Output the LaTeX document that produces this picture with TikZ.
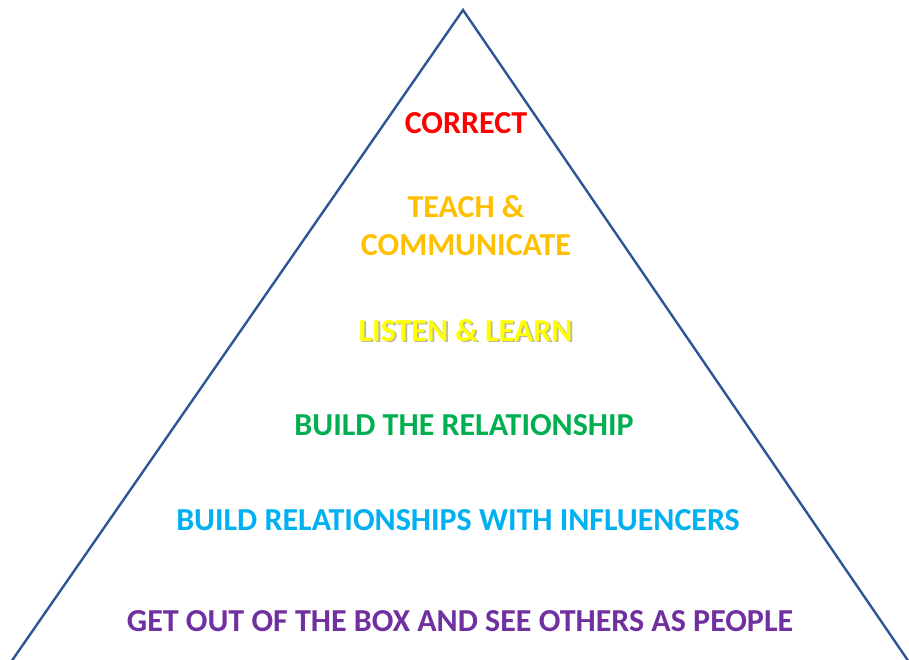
\documentclass[tikz,border=0pt]{standalone}
\usepackage{fontspec}
\setmainfont{Carlito}
\begin{document}
\begin{tikzpicture}[x=1pt,y=-1pt,
  lbl/.style={font=\bfseries\fontsize{32}{38}\selectfont, inner sep=0pt, align=center},
  edge/.style={draw=linecol, line width=2.4pt}]
\definecolor{linecol}{HTML}{2F5597}
\definecolor{cred}{HTML}{FF0000}
\definecolor{corange}{HTML}{FFC000}
\definecolor{cyellow}{HTML}{FFFF00}
\definecolor{cgreen}{HTML}{00B050}
\definecolor{cblue}{HTML}{00B0F0}
\definecolor{cpurple}{HTML}{7030A0}
\definecolor{cshadow}{HTML}{B8B8A0}
\useasboundingbox (0,0) rectangle (909,660);
\fill[white] (0,0) rectangle (909,660);
\coordinate (apex) at (463,10);
\coordinate (bl) at (11,662);
\coordinate (br) at (909,662);
\draw[edge, line join=miter] (bl) -- (apex) -- (br);
\node[lbl, text=cred] (n1) at (466,123) {CORRECT};
\node[lbl, text=corange] (n2) at (466,226) {TEACH \&\\COMMUNICATE};
\node[lbl, text=cyellow] (n3) at (465.5,331) {\rlap{\hspace{1.8pt}\raisebox{-1.8pt}{\color{cshadow}LISTEN \& LEARN}}LISTEN \& LEARN};
\node[lbl, text=cgreen] (n4) at (464,425) {BUILD THE RELATIONSHIP};
\node[lbl, text=cblue] (n5) at (458,520) {BUILD RELATIONSHIPS WITH INFLUENCERS};
\node[lbl, text=cpurple] (n6) at (460,621) {GET OUT OF THE BOX AND SEE OTHERS AS PEOPLE};
\end{tikzpicture}
\end{document}
